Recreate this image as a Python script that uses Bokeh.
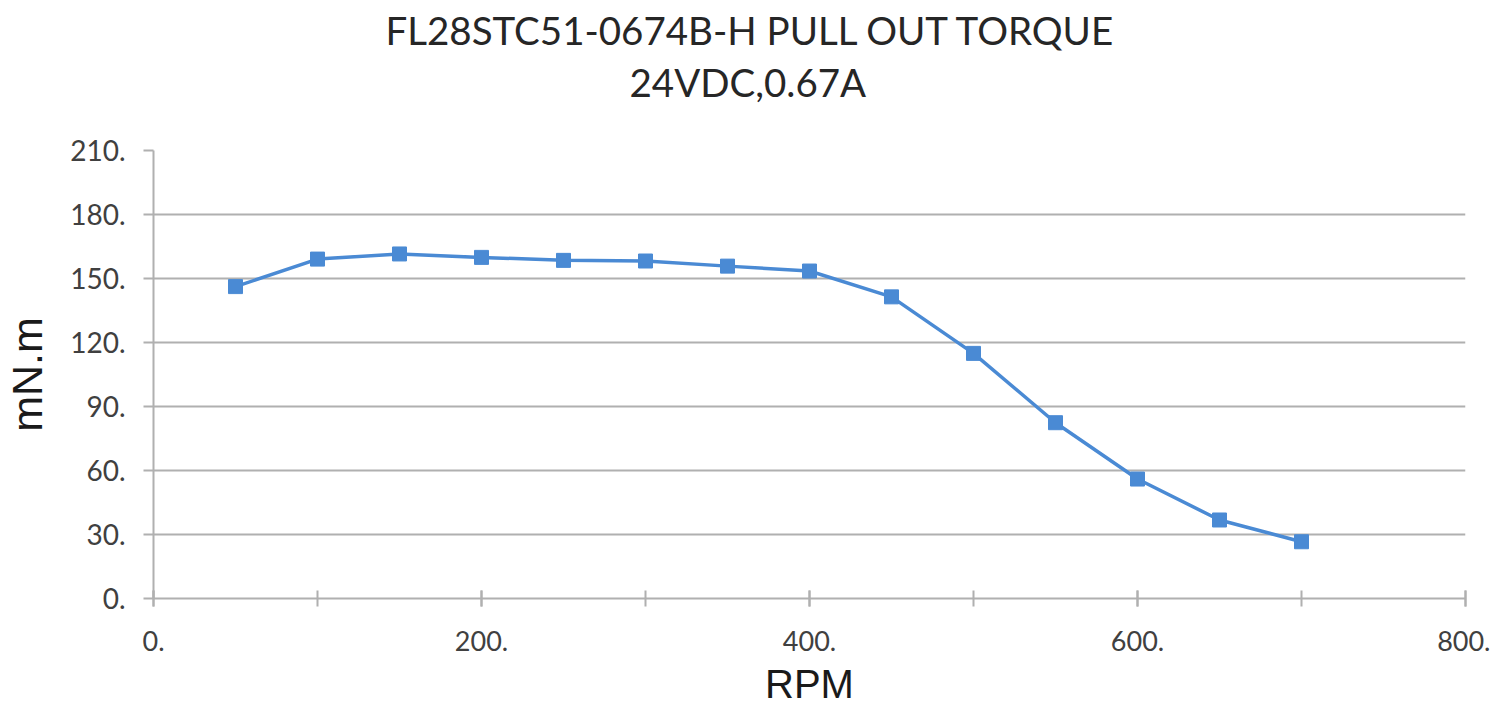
from bokeh.plotting import figure
from bokeh.models import (ColumnDataSource, FixedTicker, SingleIntervalTicker, PrintfTickFormatter,
                          Range1d, Title)
from bokeh.embed import file_html
from bokeh.resources import INLINE

# ---- data ----
rpm = [50, 100, 150, 200, 250, 300, 350, 400, 450, 500, 550, 600, 650, 700]
torque = [146.2, 159.1, 161.5, 159.9, 158.5, 158.2, 155.8, 153.5, 141.4, 114.9, 82.4, 56.0, 36.8, 26.6]
y_ticks = [0, 30, 60, 90, 120, 150, 180, 210]
title_line1 = "FL28STC51-0674B-H PULL OUT TORQUE"
title_line2 = "24VDC,0.67A"
x_label = "RPM"
y_label = "mN.m"

LINE_COLOR = "#4A8AD4"
GRID_COLOR = "#B0B0B0"
TICK_FONT = "Lato"
AXIS_FONT = "Liberation Sans"

p = figure(width=1490, height=708, output_backend="svg", toolbar_location=None,
           x_range=Range1d(0, 800), y_range=Range1d(0, 210),
           min_border_left=148, min_border_right=25, min_border_top=150, min_border_bottom=110)
p.outline_line_color = None
p.background_fill_color = "white"
p.border_fill_color = "white"

src = ColumnDataSource(dict(x=rpm, y=torque))
p.line("x", "y", source=src, line_color=LINE_COLOR, line_width=3.5)
p.scatter("x", "y", source=src, marker="square", size=14, fill_color=LINE_COLOR,
          line_color=LINE_COLOR)

# grid
p.xgrid.grid_line_color = None
p.ygrid.grid_line_color = GRID_COLOR
p.ygrid.grid_line_width = 2
p.ygrid.ticker = FixedTicker(ticks=y_ticks)

# x axis
xa = p.xaxis[0]
xa.ticker = SingleIntervalTicker(interval=200, num_minor_ticks=2)
xa.formatter = PrintfTickFormatter(format="%d.")
xa.axis_line_color = GRID_COLOR
xa.axis_line_width = 2
xa.major_tick_line_color = GRID_COLOR
xa.major_tick_line_width = 2
xa.major_tick_in = 8
xa.major_tick_out = 8
xa.minor_tick_line_color = GRID_COLOR
xa.minor_tick_line_width = 2
xa.minor_tick_in = 8
xa.minor_tick_out = 8
xa.major_label_text_font = TICK_FONT
xa.major_label_text_font_size = "27px"
xa.major_label_text_color = "#404040"
xa.major_label_standoff = 24
xa.axis_label = x_label
xa.axis_label_text_font = AXIS_FONT
xa.axis_label_text_font_style = "normal"
xa.axis_label_text_font_size = "40px"
xa.axis_label_text_color = "#1a1a1a"
xa.axis_label_standoff = 8

# y axis
ya = p.yaxis[0]
ya.ticker = FixedTicker(ticks=y_ticks)
ya.formatter = PrintfTickFormatter(format="%d.")
ya.axis_line_color = GRID_COLOR
ya.axis_line_width = 2
ya.major_tick_line_color = GRID_COLOR
ya.major_tick_line_width = 2
ya.major_tick_in = 0
ya.major_tick_out = 10
ya.minor_tick_line_color = None
ya.major_label_text_font = TICK_FONT
ya.major_label_text_font_size = "28px"
ya.major_label_text_color = "#404040"
ya.major_label_standoff = 18
ya.axis_label = y_label
ya.axis_label_text_font = AXIS_FONT
ya.axis_label_text_font_style = "normal"
ya.axis_label_text_font_size = "43px"
ya.axis_label_text_color = "#1a1a1a"
ya.axis_label_standoff = 16

# title: a blank spacer next to the plot, then the two title lines
p.add_layout(Title(text=" ", text_font_size="1px", standoff=43), "above")
p.add_layout(Title(text=title_line2, align="left", offset=476, standoff=0,
                   text_font=TICK_FONT, text_font_size="38.5px", text_font_style="normal",
                   text_color="#262626"), "above")
p.add_layout(Title(text=title_line1, align="left", offset=232, standoff=8,
                   text_font=TICK_FONT, text_font_size="38.5px", text_font_style="normal",
                   text_color="#262626"), "above")

open("out.html", "w").write(file_html(p, INLINE))
